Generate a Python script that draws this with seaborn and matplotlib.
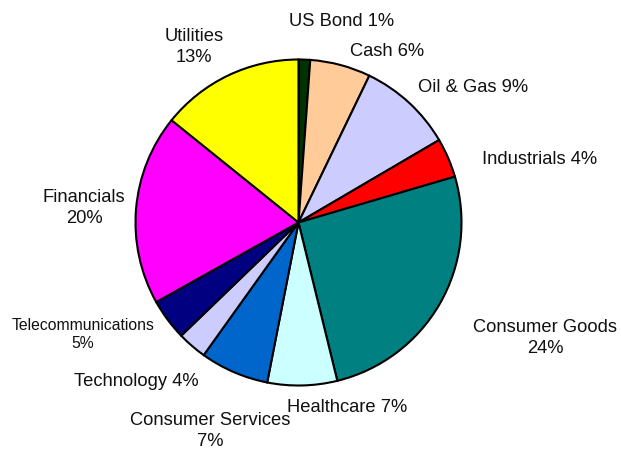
import matplotlib
matplotlib.use("Agg")
import matplotlib.pyplot as plt
import seaborn as sns

sns.set_style("white")
plt.rcParams['font.family'] = ['Liberation Sans', 'DejaVu Sans']

# sectors, clockwise from 12 o'clock
sectors = ["US Bond", "Cash", "Oil & Gas", "Industrials", "Consumer Goods", "Healthcare",
           "Consumer Services", "Technology", "Telecommunications", "Financials", "Utilities"]
weights = [1.15, 6.0, 9.4, 3.9, 25.7, 6.9, 6.8, 2.9, 4.1, 18.9, 14.2]
label_text = ["US Bond 1%", "Cash 6%", "Oil & Gas 9%", "Industrials 4%", "Consumer Goods\n24%",
              "Healthcare 7%", "Consumer Services\n7%", "Technology 4%", "Telecommunications\n5%",
              "Financials\n20%", "Utilities\n13%"]
colors = ["#003300", "#FFCC99", "#CCCCFF", "#FF0000", "#008080", "#CCFFFF",
          "#0066CC", "#CCCCFF", "#000080", "#FF00FF", "#FFFF00"]

# label centres in pixels (Excel placed them by hand)
label_px = [(342, 21), (387, 52), (473, 88), (540, 160), (545, 338), (347, 408),
            (210, 431), (136, 382), (83, 334), (84, 208), (194, 47)]

W, H = 621, 450
cx, cy, r = 298.5, 222.5, 163.0

fig = plt.figure(figsize=(W / 100, H / 100), dpi=100)
ax = fig.add_axes([0, 0, 1, 1])
ax.pie(weights, colors=colors, startangle=90, counterclock=False,
       wedgeprops=dict(edgecolor="black", linewidth=1.5))
ax.set_xlim(-cx / r, (W - cx) / r)
ax.set_ylim(-(H - cy) / r, cy / r)
ax.axis("off")

for txt, (px, py) in zip(label_text, label_px):
    size = 11.3 if txt.startswith("Telecom") else 13.2
    ax.text((px - cx) / r, (cy - py) / r, txt, ha="center", va="center",
            fontsize=size, color="#111111", linespacing=1.25)

plt.savefig("out.png", dpi=100)
